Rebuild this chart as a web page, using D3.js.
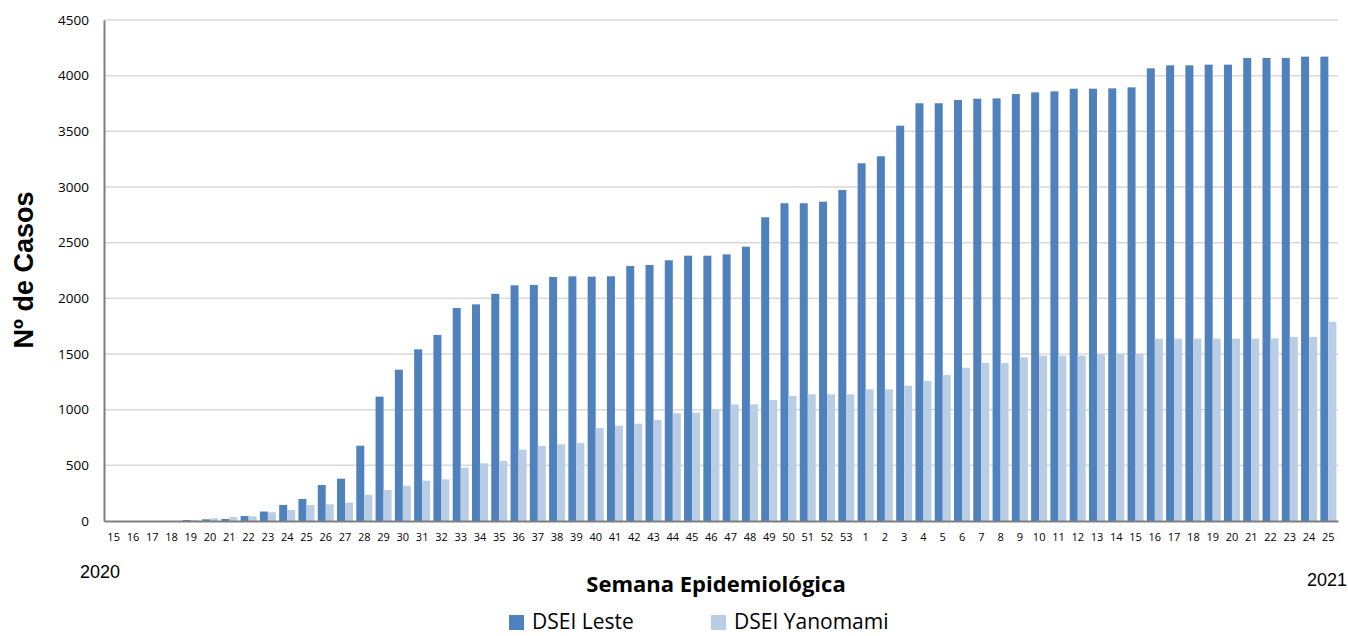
<!DOCTYPE html>
<html>
<head>
<meta charset="utf-8">
<script src="https://cdn.jsdelivr.net/npm/d3@7"></script>
<style>
  body { margin: 0; background: #fff; }
  svg { display: block; }
</style>
</head>
<body>
<div id="chart"></div>
<script>
// weeks: 15..53 of 2020, then 1..25 of 2021
var weeks2020 = [15,16,17,18,19,20,21,22,23,24,25,26,27,28,29,30,31,32,33,34,35,36,37,38,39,40,41,42,43,44,45,46,47,48,49,50,51,52,53];
var weeks2021 = [1,2,3,4,5,6,7,8,9,10,11,12,13,14,15,16,17,18,19,20,21,22,23,24,25];

var seriesNames = ["DSEI Leste", "DSEI Yanomami"];
var seriesColors = ["#4f81bd", "#b9cde5"];

var leste = [0,0,0,0,9,15,18,45,85,144,198,323,380,676,1117,1359,1542,1671,1913,1946,2041,2117,2120,2192,2198,2195,2198,2290,2300,2342,2383,2383,2395,2464,2728,2854,2854,2868,2973,
             3213,3276,3551,3752,3752,3781,3793,3796,3835,3850,3859,3883,3883,3886,3895,4066,4093,4093,4099,4099,4159,4159,4159,4171,4171];
var yanomami = [0,0,0,0,6,24,36,42,78,99,144,150,165,236,278,317,362,374,479,518,539,641,674,689,701,835,856,874,907,967,973,1003,1048,1048,1087,1123,1138,1138,1138,
                1183,1183,1215,1257,1311,1377,1419,1419,1470,1485,1485,1485,1497,1500,1500,1638,1638,1638,1638,1638,1638,1641,1653,1653,1790];

var yTicks = [0,500,1000,1500,2000,2500,3000,3500,4000,4500];

// build rows
var data = [];
weeks2020.forEach(function(w) { data.push({ key: "2020-" + w, week: w }); });
weeks2021.forEach(function(w) { data.push({ key: "2021-" + w, week: w }); });
data.forEach(function(d, i) { d.values = [leste[i], yanomami[i]]; });

var width = 1348;
var height = 636;

var svg = d3.select("#chart")
    .append("svg")
    .attr("width", width)
    .attr("height", height);

var x = d3.scaleBand()
    .domain(data.map(function(d) { return d.key; }))
    .range([104, 1338])
    .paddingInner(0.17)
    .paddingOuter(0.085);

var xs = d3.scaleBand()
    .domain([0, 1])
    .range([0, x.bandwidth()]);

var y = d3.scaleLinear()
    .domain([0, 4500])
    .range([521, 20]);

// gridlines
svg.append("g")
    .selectAll("line")
    .data(yTicks.slice(1))
    .enter()
    .append("line")
    .attr("x1", 104)
    .attr("x2", 1338)
    .attr("y1", function(d) { return y(d); })
    .attr("y2", function(d) { return y(d); })
    .attr("stroke", "#d9d9d9")
    .attr("stroke-width", 1.5);

// bars
var groups = svg.append("g")
    .selectAll("g")
    .data(data)
    .enter()
    .append("g")
    .attr("transform", function(d) { return "translate(" + x(d.key) + ",0)"; });

groups.selectAll("rect")
    .data(function(d) { return d.values.map(function(v, i) { return { s: i, v: v }; }); })
    .enter()
    .append("rect")
    .attr("x", function(d) { return xs(d.s); })
    .attr("width", xs.bandwidth())
    .attr("y", function(d) { return y(d.v); })
    .attr("height", function(d) { return y(0) - y(d.v); })
    .attr("fill", function(d) { return seriesColors[d.s]; });

// y axis
var yAxis = svg.append("g")
    .attr("transform", "translate(104,0)")
    .call(d3.axisLeft(y).tickValues(yTicks).tickSize(0).tickPadding(15).tickFormat(d3.format("d")));
yAxis.select(".domain").attr("stroke", "#7f7f7f").attr("stroke-width", 2);
yAxis.selectAll("text")
    .attr("font-family", "'Open Sans', sans-serif")
    .attr("font-size", 13.5)
    .attr("fill", "#000");

// x axis
var xAxis = svg.append("g")
    .attr("transform", "translate(0,521)")
    .call(d3.axisBottom(x).tickSize(0).tickPadding(12)
        .tickFormat(function(k) { return k.split("-")[1]; }));
xAxis.select(".domain").attr("stroke", "#7f7f7f").attr("stroke-width", 2);
xAxis.selectAll("text")
    .attr("font-family", "'Open Sans', sans-serif")
    .attr("font-size", 11)
    .attr("fill", "#000");

// axis titles
svg.append("text")
    .attr("transform", "translate(33,270) rotate(-90)")
    .attr("text-anchor", "middle")
    .attr("font-family", "'Liberation Sans', Arial, sans-serif")
    .attr("font-weight", "bold")
    .attr("font-size", 27)
    .text("Nº de Casos");

svg.append("text")
    .attr("x", 716)
    .attr("y", 592)
    .attr("text-anchor", "middle")
    .attr("font-family", "'Open Sans', sans-serif")
    .attr("font-weight", "bold")
    .attr("font-size", 22)
    .text("Semana Epidemiológica");

// year labels
svg.append("text")
    .attr("x", 80)
    .attr("y", 578)
    .attr("font-family", "'Liberation Sans', Arial, sans-serif")
    .attr("font-size", 18)
    .text("2020");

svg.append("text")
    .attr("x", 1347)
    .attr("y", 586)
    .attr("text-anchor", "end")
    .attr("font-family", "'Liberation Sans', Arial, sans-serif")
    .attr("font-size", 18)
    .text("2021");

// legend
var legendX = [509, 711];
var legend = svg.append("g")
    .selectAll("g")
    .data(seriesNames)
    .enter()
    .append("g")
    .attr("transform", function(d, i) { return "translate(" + legendX[i] + ",615)"; });

legend.append("rect")
    .attr("width", 15)
    .attr("height", 15)
    .attr("fill", function(d, i) { return seriesColors[i]; });

legend.append("text")
    .attr("x", 23)
    .attr("y", 14)
    .attr("font-family", "'Open Sans', sans-serif")
    .attr("font-size", 21)
    .text(function(d) { return d; });
</script>
</body>
</html>
